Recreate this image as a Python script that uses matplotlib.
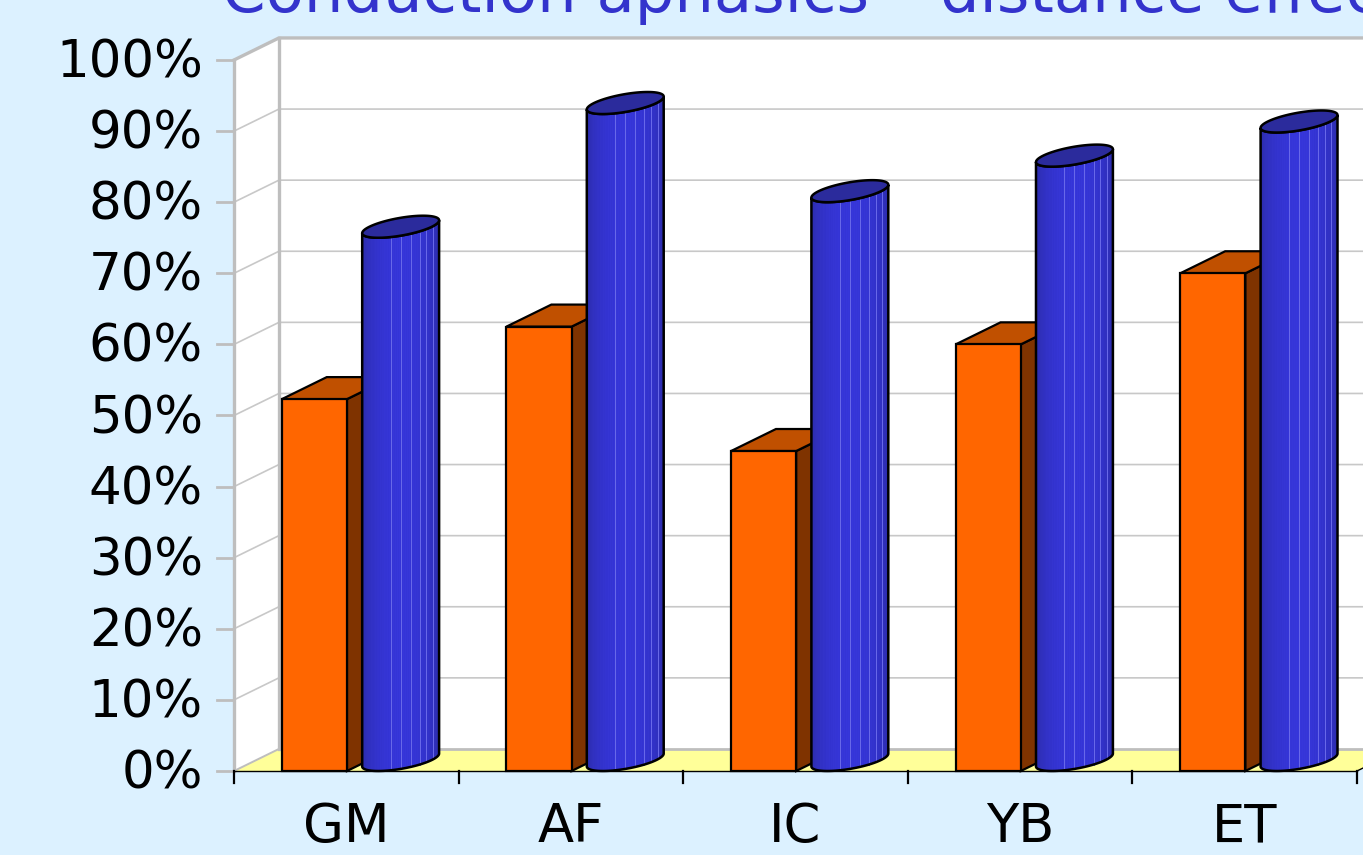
import numpy as np
import matplotlib.pyplot as plt
from matplotlib.patches import Polygon

categories = ["GM", "AF", "IC", "YB", "ET"]
orange_vals = [52.3, 62.5, 45.0, 60.0, 70.0]   # boxes (front series)
blue_vals = [75.0, 92.4, 80.0, 85.0, 89.8]     # cylinders
y_ticks = list(range(0, 101, 10))
title = "Conduction aphasics – distance effect"

# figure size and where the front plane sits, in pixels
W, H = 1363, 855
X0_PX, CAT_PX = 234, 224.6      # left of the plot, width of one category
BASE_PX, PCT_PX = 771, 7.11     # 0% line, pixels per percent

# oblique depth offset, in data units (categories / percent)
DX, DY = 0.2, 3.1
BAR_OFF, BAR_W = 0.213, 0.29
CYL_W = 0.278

BG = "#DCF1FF"
GRID = "#C8C8C8"
WALL_EDGE = "#BEBEBE"
FONT = "DejaVu Sans"

fig = plt.figure(figsize=(W / 100, H / 100), dpi=100, facecolor=BG)
ax = fig.add_axes([0, 0, 1, 1])
ax.set_xlim(-X0_PX / CAT_PX, (W - X0_PX) / CAT_PX)
ax.set_ylim(-(H - BASE_PX) / PCT_PX, BASE_PX / PCT_PX)
ax.axis("off")

n = len(categories)
xmax = ax.get_xlim()[1] + 1
ymax = y_ticks[-1]

# walls and floor
ax.add_patch(Polygon([(0, 0), (0, ymax), (DX, ymax + DY), (DX, DY)],
                     closed=True, fc="white", ec="none", zorder=1))
ax.add_patch(Polygon([(DX, DY), (DX, ymax + DY), (xmax, ymax + DY), (xmax, DY)],
                     closed=True, fc="white", ec="none", zorder=1))
ax.add_patch(Polygon([(0, 0), (n, 0), (n + DX, DY), (DX, DY)],
                     closed=True, fc="#FFFF99", ec="none", zorder=1))

for v in y_ticks[1:-1]:
    ax.plot([0, DX, xmax], [v, v + DY, v + DY], color=GRID, lw=1.2, zorder=2)

# wall borders
ax.plot([0, 0], [0, ymax], color=WALL_EDGE, lw=2.4, zorder=2)
ax.plot([0, DX, xmax], [ymax, ymax + DY, ymax + DY], color=WALL_EDGE, lw=2.4, zorder=2)
ax.plot([DX, DX], [DY, ymax + DY], color=WALL_EDGE, lw=2.4, zorder=2)
ax.plot([DX, xmax], [DY, DY], color=WALL_EDGE, lw=2.0, zorder=2)
ax.plot([0, DX], [0, DY], color=WALL_EDGE, lw=1.4, zorder=2)

# value axis ticks and labels
tick_len = 17 / CAT_PX
for v in y_ticks:
    ax.plot([-tick_len, 0], [v, v], color=WALL_EDGE, lw=2.0, zorder=2)
    ax.text(-31 / CAT_PX, v - 17.5 / PCT_PX, f"{v}%", ha="right", va="baseline",
            fontsize=37, family=FONT, color="black", zorder=5)

# floor front edge and category ticks
ax.plot([0, n], [0, 0], color="black", lw=1.0, zorder=2)
ax.plot([n, n + DX], [0, DY], color="black", lw=1.0, zorder=2)
for k in range(n + 1):
    ax.plot([k, k], [0, -12 / PCT_PX], color="black", lw=1.6, zorder=2)
for i, c in enumerate(categories):
    ax.text(i + 0.5, -71 / PCT_PX, c, ha="center", va="baseline",
            fontsize=38, family=FONT, color="black", zorder=5)

LIGHT = np.array([0.6, -0.8])
DARK_BLUE = np.array([42, 42, 160]) / 255
LIGHT_BLUE = np.array([54, 54, 218]) / 255


def ring(xc, r, th, h):
    t = 0.5 + 0.5 * np.sin(th)
    return np.column_stack([xc + r * np.cos(th) + DX * t, h + DY * t])


for i, (a, b) in enumerate(zip(orange_vals, blue_vals)):
    x0 = i + BAR_OFF
    x1 = x0 + BAR_W

    # orange box
    ax.add_patch(Polygon([(x1, 0), (x1 + DX, DY), (x1 + DX, a + DY), (x1, a)],
                         closed=True, fc="#7F3300", ec="black", lw=1.6, zorder=3))
    ax.add_patch(Polygon([(x0, a), (x1, a), (x1 + DX, a + DY), (x0 + DX, a + DY)],
                         closed=True, fc="#C05000", ec="black", lw=1.6, zorder=3))
    ax.add_patch(Polygon([(x0, 0), (x1, 0), (x1, a), (x0, a)],
                         closed=True, fc="#FF6600", ec="black", lw=1.6, zorder=3))

    # blue cylinder, sitting right next to the box
    r = CYL_W / 2
    xc = x1 + r
    th1 = np.arctan(DX / CYL_W)
    theta = np.linspace(th1 + np.pi, th1 + 2 * np.pi, 61)
    top = ring(xc, r, theta, b)
    bot = ring(xc, r, theta, 0)
    body = np.vstack([top, bot[::-1]])
    ax.add_patch(Polygon(body, closed=True, fc="#3030B8", ec="none", zorder=4))
    for j in range(len(theta) - 1):
        mid = 0.5 * (theta[j] + theta[j + 1])
        k = np.clip(np.dot([np.cos(mid), np.sin(mid)], LIGHT), 0, 1)
        col = DARK_BLUE + (LIGHT_BLUE - DARK_BLUE) * k
        quad = np.vstack([top[j:j + 2], bot[j:j + 2][::-1]])
        ax.add_patch(Polygon(quad, closed=True, fc=col, ec=col, lw=0.3, zorder=4))

    # faint highlight streaks on the cylinder wall
    xl, xr = top[0, 0], top[-1, 0]
    for f in [0.36, 0.5, 0.62, 0.74, 0.84, 0.92]:
        j = np.argmin(np.abs(top[:, 0] - (xl + f * (xr - xl))))
        ax.plot([top[j, 0], bot[j, 0]], [top[j, 1], bot[j, 1]],
                color="#6A6AEA", lw=0.7, zorder=4)

    ax.add_patch(Polygon(body, closed=True, fc="none", ec="black", lw=1.8, zorder=4))
    cap = ring(xc, r, np.linspace(0, 2 * np.pi, 120), b)
    ax.add_patch(Polygon(cap, closed=True, fc="#2B2B9C", ec="black", lw=1.8, zorder=4))

fig.text(222 / W, 1 - 12 / H, title, ha="left", va="baseline",
         fontsize=45, family=FONT, color="#3333CC")

fig.savefig("out.png", dpi=100, facecolor=BG)
